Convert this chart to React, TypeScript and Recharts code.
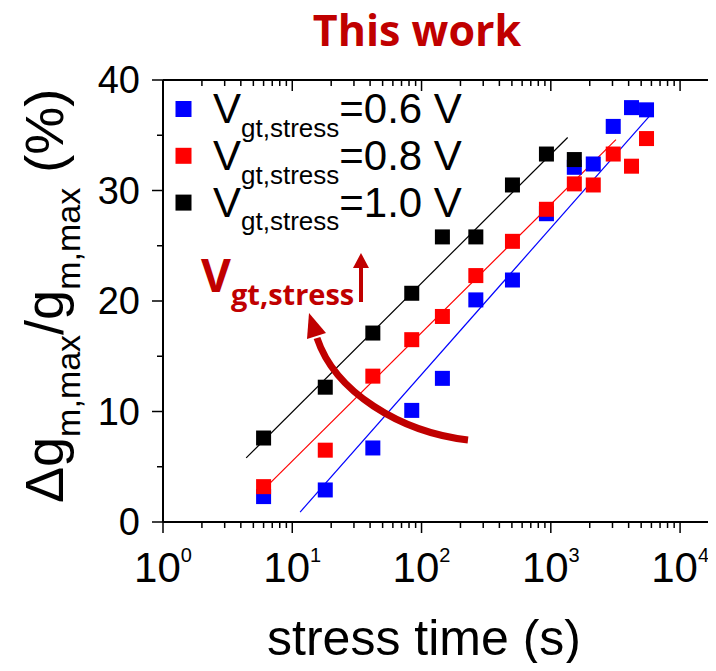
import React from "react";
import { ScatterChart, Scatter, XAxis, YAxis, ReferenceLine } from "recharts";

// stress times (s), shared by all three series
const times = [6, 18, 42, 84, 145, 263, 505, 925, 1520, 2130, 3040, 4210, 5500];

// Δgm,max/gm,max (%) per stress voltage
const gm06 = [2.3, 2.9, 6.7, 10.1, 13.0, 20.1, 21.9, 27.9, 32.1, 32.4, 35.8, 37.5, 37.3];
const gm08 = [3.2, 6.5, 13.2, 16.5, 18.6, 22.3, 25.4, 28.3, 30.6, 30.5, 33.3, 32.2, 34.7];
const gm10 = [7.6, 12.2, 17.1, 20.7, 25.8, 25.8, 30.5, 33.3, 32.8];

// log-linear fit segments (start / end)
const fit06T = [11.5, 5770];
const fit06V = [0.9, 36.7];
const fit08T = [6.7, 3190];
const fit08V = [3.5, 34.6];
const fit10T = [4.4, 1350];
const fit10V = [5.8, 34.8];

const legendValues = ["=0.6 V", "=0.8 V", "=1.0 V"];
const xMajorTicks = [1, 10, 100, 1000, 10000];
const yTicks = [0, 5, 10, 15, 20, 25, 30, 35, 40];

const ARIAL = "'Liberation Sans', Arial, sans-serif";
const BOLD_FONT = "'Open Sans', 'Noto Sans', sans-serif";
const DARK_RED = "#C00000";

const LEFT = 163;
const TOP = 80;
const PLOT_W = 556;
const PLOT_H = 442;
const CHART_W = 724;
const CHART_H = 671;

const toPoints = (ts: number[], vs: number[]) =>
  vs.map((v, i) => ({ t: ts[i], v }));

const xTicks: number[] = [];
xMajorTicks.forEach((d) => {
  xTicks.push(d);
  if (d < 10000) for (let k = 2; k <= 9; k++) xTicks.push(k * d);
});

const series = [
  { name: "0.6", color: "#0000FF", data: toPoints(times, gm06), fit: toPoints(fit06T, fit06V) },
  { name: "0.8", color: "#FF0000", data: toPoints(times, gm08), fit: toPoints(fit08T, fit08V) },
  { name: "1.0", color: "#000000", data: toPoints(times, gm10), fit: toPoints(fit10T, fit10V) },
];

const squareShape = (color: string) => (props: any) => (
  <rect x={props.cx - 7.5} y={props.cy - 7.5} width={15} height={15} fill={color} />
);

const XTick = (props: any) => {
  const { x, y, payload } = props;
  const v = payload.value;
  const exp = Math.round(Math.log10(v));
  const major = Math.abs(v - Math.pow(10, exp)) < 1e-6;
  const len = major ? 11 : 6;
  return (
    <g>
      <line x1={x} x2={x} y1={y} y2={y + len} stroke="#000" strokeWidth={1.5} />
      <line x1={x} x2={x} y1={y - PLOT_H} y2={y - PLOT_H + len} stroke="#000" strokeWidth={1.5} />
      {major && (
        <text x={x} y={y + 60} textAnchor="middle" fontFamily={ARIAL} fontSize={42} fill="#000">
          10
          <tspan dy={-20} fontSize={20}>
            {exp}
          </tspan>
        </text>
      )}
    </g>
  );
};

const YTick = (props: any) => {
  const { x, y, payload } = props;
  const v = payload.value;
  const major = v % 10 === 0;
  const len = major ? 11 : 6;
  return (
    <g>
      <line x1={x - len} x2={x} y1={y} y2={y} stroke="#000" strokeWidth={1.5} />
      <line x1={x + PLOT_W - len} x2={x + PLOT_W} y1={y} y2={y} stroke="#000" strokeWidth={1.5} />
      {major && (
        <text x={x - 23} y={y + 13} textAnchor="end" fontFamily={ARIAL} fontSize={38} fill="#000">
          {v}
        </text>
      )}
    </g>
  );
};

const Overlay = () => (
  <svg
    width={716}
    height={671}
    style={{ position: "absolute", left: 0, top: 0, pointerEvents: "none" }}
  >
    {/* title */}
    <text x={417} y={46} textAnchor="middle" fontFamily={BOLD_FONT} fontWeight={700} fontSize={43} fill={DARK_RED}>
      This work
    </text>

    {/* legend */}
    {series.map((s, i) => {
      const cy = 109 + i * 46.8;
      return (
        <g key={s.name}>
          <rect x={175.5} y={cy - 8} width={16} height={16} fill={s.color} />
          <text x={213} y={cy + 14.3} fontFamily={ARIAL} fontSize={42} fill="#000">
            V
            <tspan fontSize={26} dy={13.4}>gt,stress</tspan>
            <tspan dy={-13.4}>{legendValues[i]}</tspan>
          </text>
        </g>
      );
    })}

    {/* annotation */}
    <text x={201} y={291.7} fontFamily={BOLD_FONT} fontWeight={700} fontSize={46} fill={DARK_RED}>
      V
      <tspan fontSize={29} dy={13.3}>gt,stress</tspan>
    </text>
    <line x1={361} x2={361} y1={302} y2={266} stroke={DARK_RED} strokeWidth={4} />
    <polygon points="353,268 369,268 361,253" fill={DARK_RED} />
    <path d="M468,440 C400,432 335,392 317,338" stroke={DARK_RED} strokeWidth={7} fill="none" />
    <polygon points="326,333 307,339 309,313" fill={DARK_RED} />

    {/* axis titles */}
    <text x={424} y={655} textAnchor="middle" fontFamily={ARIAL} fontSize={50} fill="#000">
      stress time (s)
    </text>
    <text transform="translate(63,503) rotate(-90)" fontFamily={ARIAL} fontSize={54} fill="#000">
      Δg
      <tspan fontSize={34} dy={17}>m,max</tspan>
      <tspan dy={-17}>/g</tspan>
      <tspan fontSize={34} dy={17}>m,max</tspan>
      <tspan dy={-17}> (%)</tspan>
    </text>
  </svg>
);

export default function App() {
  return (
    <div style={{ position: "relative", width: 716, height: 671, margin: -8, overflow: "hidden", background: "#fff" }}>
      <ScatterChart
        width={CHART_W}
        height={CHART_H}
        margin={{ top: TOP, right: CHART_W - LEFT - PLOT_W, bottom: 0, left: 0 }}
      >
        <XAxis
          dataKey="t"
          type="number"
          scale="log"
          domain={[1, 20000]}
          allowDataOverflow
          ticks={xTicks}
          interval={0}
          tickSize={0}
          tickMargin={0}
          tick={XTick}
          height={CHART_H - TOP - PLOT_H}
          axisLine={{ stroke: "#000", strokeWidth: 2 }}
        />
        <YAxis
          dataKey="v"
          type="number"
          domain={[0, 40]}
          allowDataOverflow
          ticks={yTicks}
          interval={0}
          tickSize={0}
          tickMargin={0}
          tick={YTick}
          width={LEFT}
          axisLine={{ stroke: "#000", strokeWidth: 2 }}
        />
        <ReferenceLine y={40} stroke="#000" strokeWidth={2} ifOverflow="visible" />
        <ReferenceLine x={20000} stroke="#000" strokeWidth={2} ifOverflow="visible" />
        {series.map((s) => (
          <Scatter
            key={"fit" + s.name}
            data={s.fit}
            line={{ stroke: s.color, strokeWidth: 1.2 }}
            shape={() => <g />}
            isAnimationActive={false}
          />
        ))}
        {series.map((s) => (
          <Scatter
            key={"pts" + s.name}
            data={s.data}
            shape={squareShape(s.color)}
            isAnimationActive={false}
          />
        ))}
      </ScatterChart>
      <Overlay />
    </div>
  );
}
